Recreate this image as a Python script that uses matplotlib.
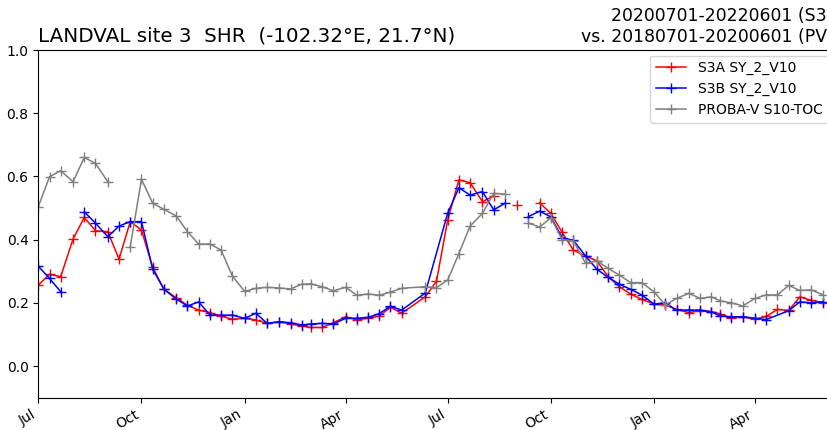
import numpy as np
import pandas as pd
import matplotlib
matplotlib.use("Agg")
import matplotlib.pyplot as plt
import matplotlib.dates as mdates

# dekadal dates Jul 2020 .. Jun 2022 (2021-06-01 has no observation)
months = pd.date_range("2020-07-01", "2022-06-01", freq="MS")
dates = [m + pd.Timedelta(days=d) for m in months for d in (0, 10, 20)]
dates = [d for d in dates if d <= pd.Timestamp("2022-06-01") and d != pd.Timestamp("2021-06-01")]

nan = np.nan
# None = no observation (line continues), nan = gap (line breaks)
s3a = [0.256, 0.290, 0.283, 0.402, 0.470, 0.428, 0.425, 0.338, 0.457, 0.430,
       0.312, 0.243, 0.216, 0.192, 0.177, 0.169, 0.158, 0.148, 0.151, 0.146,
       0.135, 0.140, 0.133, 0.127, 0.122, 0.122, 0.137, 0.156, 0.146, 0.151,
       0.158, 0.186, 0.167, 0.219, 0.268, 0.462, 0.589, 0.580, 0.520, 0.538,
       nan, 0.509, nan, 0.516, 0.483, 0.423, 0.367, 0.348, 0.333, 0.283,
       0.251, 0.228, 0.211, 0.196, 0.193, 0.179, 0.169, 0.175, 0.172, 0.165,
       0.151, 0.156, 0.148, 0.157, 0.179, 0.176, 0.219, 0.208, 0.200]
s3b = [0.316, 0.277, 0.235, nan, 0.488, 0.452, 0.409, 0.443, 0.457, 0.457,
       0.306, 0.243, 0.212, 0.190, 0.203, 0.161, 0.161, 0.161, 0.151, 0.167,
       0.135, 0.140, 0.137, 0.130, 0.133, 0.135, 0.133, 0.151, 0.151, 0.154,
       0.166, 0.189, 0.177, 0.231, None, 0.484, 0.564, 0.541, 0.552, 0.494,
       0.515, nan, 0.473, 0.490, 0.472, 0.406, 0.398, 0.348, 0.306, 0.281,
       0.259, 0.243, 0.225, 0.196, 0.200, 0.177, 0.177, 0.177, 0.172, 0.158,
       0.156, 0.156, 0.151, 0.147, None, 0.175, 0.203, 0.200, 0.203]
pv = [0.504, 0.599, 0.618, 0.583, 0.660, 0.641, 0.583, nan, 0.378, 0.591,
      0.515, 0.496, 0.475, 0.425, 0.386, 0.386, 0.367, 0.285, 0.236, 0.246,
      0.249, 0.247, 0.244, 0.259, 0.260, 0.251, 0.238, 0.249, 0.224, 0.228,
      0.224, 0.234, 0.246, 0.251, 0.248, 0.272, 0.356, 0.443, 0.483, 0.546,
      0.544, nan, 0.452, 0.440, 0.469, 0.400, 0.396, 0.325, 0.333, 0.309,
      0.288, 0.264, 0.264, 0.235, 0.193, 0.214, 0.230, 0.214, 0.219, 0.206,
      0.200, 0.190, 0.214, 0.225, 0.225, 0.255, 0.239, 0.241, 0.225]

series = [("S3A SY_2_V10", s3a, "red"),
          ("S3B SY_2_V10", s3b, "blue"),
          ("PROBA-V S10-TOC", pv, "gray")]

title_left = "LANDVAL site 3  SHR  (-102.32°E, 21.7°N)"
title_right = "20200701-20220601 (S3)\nvs. 20180701-20200601 (PV)"

fig = plt.figure(figsize=(8.27, 4.30), dpi=100)
ax = fig.add_axes([0.0463, 0.0753, 0.9616, 0.8084])

for label, vals, col in series:
    d = [t for t, v in zip(dates, vals) if v is not None]
    v = [x for x in vals if x is not None]
    ax.plot(d, v, color=col, marker="+", markersize=7, linewidth=1.1, label=label)

ax.set_xlim(pd.Timestamp("2020-07-01"), pd.Timestamp("2022-06-10"))
ax.set_ylim(-0.1, 1.0)
ax.set_yticks([0.0, 0.2, 0.4, 0.6, 0.8, 1.0])
ax.xaxis.set_major_locator(mdates.MonthLocator(bymonth=[1, 4, 7, 10]))
ax.xaxis.set_major_formatter(mdates.DateFormatter("%b"))
for lab in ax.get_xticklabels():
    lab.set_rotation(30)
    lab.set_ha("right")
ax.tick_params(labelsize=10)

ax.set_title(title_left, loc="left", fontsize=14.3)
ax.set_title(title_right, loc="right", fontsize=12.4)
ax.legend(loc="upper right", fontsize=10, borderaxespad=0.4, handlelength=2.2)

fig.savefig("out.png", dpi=100)
